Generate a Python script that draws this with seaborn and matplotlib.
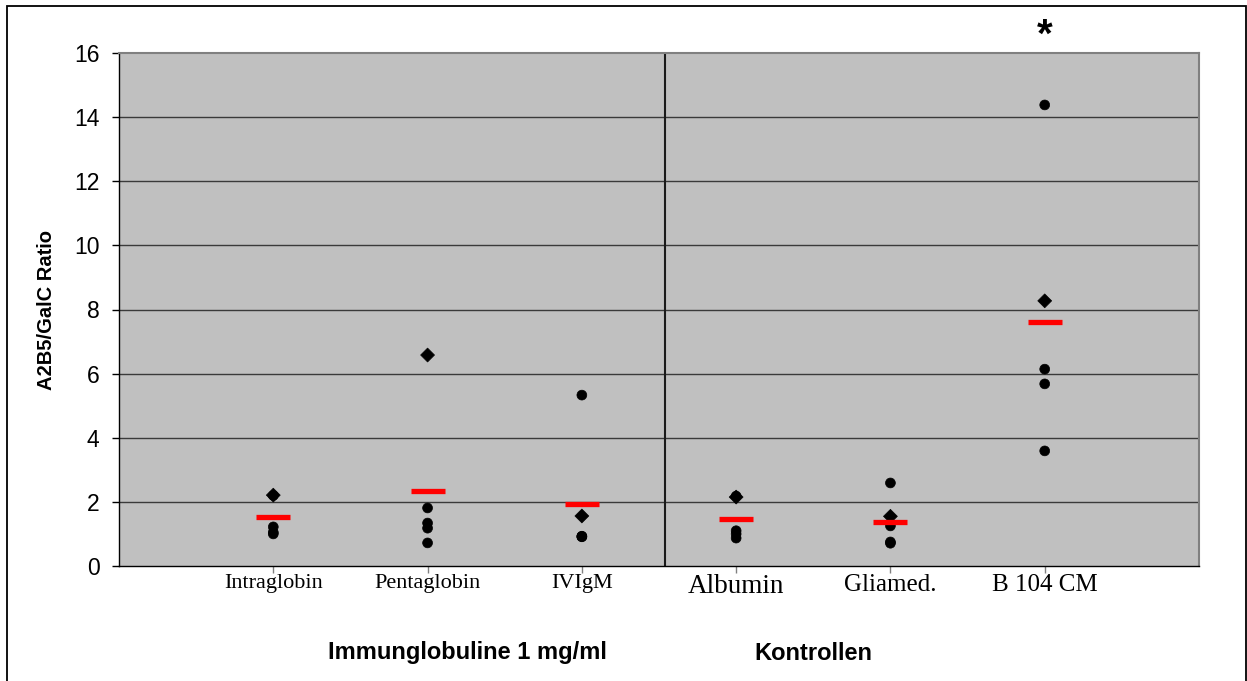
import pandas as pd
import seaborn as sns
import matplotlib.pyplot as plt
from matplotlib.patches import Rectangle

groups = ['Intraglobin', 'Pentaglobin', 'IVIgM', 'Albumin', 'Gliamed.', 'B 104 CM']
# one value per experiment and group; experiment 1 drawn as diamond
exp1 = [2.21, 6.58, 1.56, 2.15, 1.55, 8.27]
exp2 = [2.20, 1.81, 5.33, 2.18, 2.59, 14.38]
exp3 = [1.22, 1.34, 0.93, 1.10, 1.25, 6.14]
exp4 = [1.05, 1.18, 0.92, 1.00, 0.75, 5.68]
exp5 = [1.00, 0.72, 0.91, 0.87, 0.71, 3.59]
y_ticks = [0, 2, 4, 6, 8, 10, 12, 14, 16]
group_titles = ['Immunglobuline 1 mg/ml', 'Kontrollen']

rows = []
for name, vals in [('1', exp1), ('2', exp2), ('3', exp3), ('4', exp4), ('5', exp5)]:
    for g, v in zip(groups, vals):
        rows.append({'Gruppe': g, 'Ratio': v, 'Exp': name})
df = pd.DataFrame(rows)
df['Form'] = df['Exp'].map(lambda e: 'diamond' if e == '1' else 'circle')

sns.set_style('white')
plt.rcParams['font.family'] = ['Liberation Sans', 'DejaVu Sans']
plt.rcParams['text.color'] = 'black'
plt.rcParams['axes.labelcolor'] = 'black'
plt.rcParams['xtick.color'] = 'black'
plt.rcParams['ytick.color'] = 'black'

fig = plt.figure(figsize=(12.47, 6.81), dpi=100)
ax = fig.add_axes([119 / 1247, 1 - 566 / 681, 1080 / 1247, 513 / 681])
ax.set_facecolor('#c0c0c0')

sns.scatterplot(data=df, x='Gruppe', y='Ratio', style='Form',
                markers={'diamond': 'D', 'circle': 'o'}, color='black',
                s=50, edgecolor='black', linewidth=0.5, legend=False, ax=ax, zorder=3)
sns.pointplot(data=df, x='Gruppe', y='Ratio', order=groups, estimator='mean',
              errorbar=None, linestyle='none', marker='_', color='#ff0000',
              markersize=24, markeredgewidth=3.8, ax=ax, zorder=4)

ax.set_xlim(-1, 6)
ax.set_ylim(0, 16)
ax.set_yticks(y_ticks)
ax.set_yticklabels([str(t) for t in y_ticks], fontsize=16.5)
ax.set_xticks(range(len(groups)))
ax.set_xticklabels(groups, family='Liberation Serif')
for i, lab in enumerate(ax.get_xticklabels()):
    lab.set_fontsize(16 if i < 3 else 18)
ax.get_xticklabels()[3].set_fontsize(19.5)

for t in y_ticks[1:-1]:
    ax.axhline(t, color='#3a3a3a', lw=1, zorder=1)
ax.axvline(2.54, color='#1a1a1a', lw=1.5, zorder=2)

for side in ['left', 'bottom']:
    ax.spines[side].set_color('black')
    ax.spines[side].set_linewidth(1)
for side in ['top', 'right']:
    ax.spines[side].set_color('#808080')
    ax.spines[side].set_linewidth(1.5)

ax.tick_params(axis='y', direction='out', length=5, width=1, color='black', pad=9, left=True)
ax.tick_params(axis='x', direction='out', length=5, width=1, color='#808080', pad=1, bottom=True)

ax.set_xlabel('')
ax.set_ylabel('A2B5/GalC Ratio', fontsize=14.5, fontweight='bold')
ax.yaxis.set_label_coords(-0.058, 0.5)

ax.text(5, 16.55, '*', ha='center', va='center', fontsize=29, fontweight='bold',
        clip_on=False)

fig.text(467 / 1247, 1 - 653 / 681, group_titles[0], ha='center', va='center',
         fontsize=17, fontweight='bold')
fig.text(813 / 1247, 1 - 653 / 681, group_titles[1], ha='center', va='center',
         fontsize=17, fontweight='bold')

fig.patches.append(Rectangle((7 / 1247, -0.02), 1239 / 1247, 1.02 - 6 / 681,
                             transform=fig.transFigure, fill=False,
                             edgecolor='black', lw=1.3))

fig.savefig('out.png', dpi=100)
